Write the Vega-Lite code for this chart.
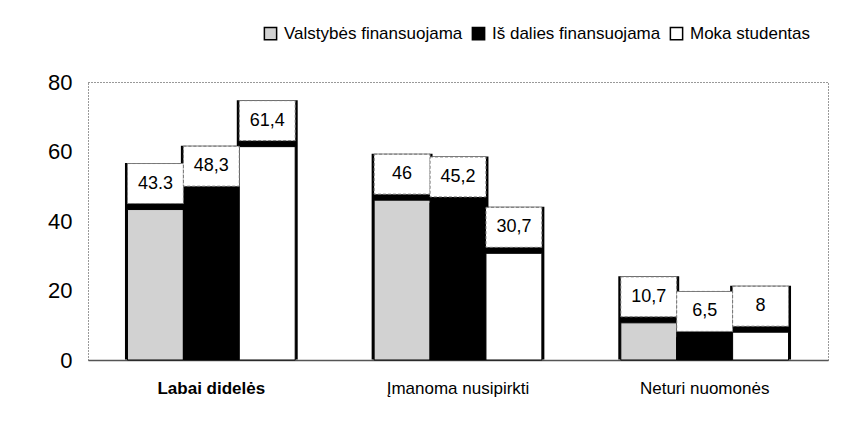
{
  "$schema": "https://vega.github.io/schema/vega-lite/v6.json",
  "width": 740,
  "height": 278,
  "autosize": {"type": "none"},
  "padding": {"left": 88, "top": 82, "right": 15, "bottom": 71},
  "background": "white",
  "config": {
    "font": "Liberation Sans",
    "view": {"stroke": "#333", "strokeDash": [1, 2], "strokeWidth": 1}
  },
  "data": {
    "values": [
      {"cat": "Labai didelės", "series": "Valstybės finansuojama", "value": 43.3, "label": "43.3"},
      {"cat": "Labai didelės", "series": "Iš dalies finansuojama", "value": 48.3, "label": "48,3"},
      {"cat": "Labai didelės", "series": "Moka studentas", "value": 61.4, "label": "61,4"},
      {"cat": "Įmanoma nusipirkti", "series": "Valstybės finansuojama", "value": 46, "label": "46"},
      {"cat": "Įmanoma nusipirkti", "series": "Iš dalies finansuojama", "value": 45.2, "label": "45,2"},
      {"cat": "Įmanoma nusipirkti", "series": "Moka studentas", "value": 30.7, "label": "30,7"},
      {"cat": "Neturi nuomonės", "series": "Valstybės finansuojama", "value": 10.7, "label": "10,7"},
      {"cat": "Neturi nuomonės", "series": "Iš dalies finansuojama", "value": 6.5, "label": "6,5"},
      {"cat": "Neturi nuomonės", "series": "Moka studentas", "value": 8, "label": "8"}
    ]
  },
  "encoding": {
    "x": {
      "field": "cat", "type": "nominal", "sort": null, "title": null,
      "scale": {"paddingInner": 0.32, "paddingOuter": 0.16},
      "axis": {
        "labelAngle": 0, "labelFontSize": 17, "labelColor": "#000", "labelPadding": 20,
        "labelFontWeight": {"condition": {"test": "datum.value == 'Labai didelės'", "value": "bold"}, "value": "normal"},
        "ticks": false, "domainColor": "#555", "domainWidth": 1.5
      }
    },
    "xOffset": {"field": "series", "type": "nominal", "sort": null},
    "y": {
      "field": "value", "type": "quantitative", "title": null,
      "scale": {"domain": [0, 80], "nice": false},
      "axis": {
        "values": [0, 20, 40, 60, 80], "grid": false, "ticks": false, "domain": false,
        "labelFontSize": 22, "labelColor": "#000", "labelPadding": 16
      }
    }
  },
  "layer": [
    {
      "mark": {"type": "bar", "color": "black", "stroke": "black", "strokeWidth": 5, "yOffset": -44, "y2Offset": -3},
      "encoding": {"y2": {"datum": 0}}
    },
    {
      "mark": {"type": "bar", "stroke": "black", "strokeWidth": 1},
      "encoding": {
        "color": {
          "field": "series", "type": "nominal", "sort": null,
          "scale": {"range": ["#d2d2d2", "#000000", "#ffffff"]},
          "legend": {
            "title": null, "orient": "none", "direction": "horizontal",
            "legendX": 174, "legendY": -57,
            "symbolType": "square", "symbolSize": 150,
            "symbolStrokeColor": "black", "symbolStrokeWidth": 1.5,
            "labelFontSize": 17, "labelColor": "#000", "labelLimit": 0, "columnPadding": 6, "labelOffset": 5
          }
        }
      }
    },
    {
      "mark": {"type": "bar", "fill": "white", "stroke": "#777", "strokeDash": [3, 2], "strokeWidth": 1, "yOffset": -46, "y2Offset": -6},
      "encoding": {"y2": {"field": "value"}}
    },
    {
      "mark": {"type": "text", "fontSize": 18, "color": "#000", "dy": -26, "baseline": "middle"},
      "encoding": {"text": {"field": "label"}}
    }
  ]
}
